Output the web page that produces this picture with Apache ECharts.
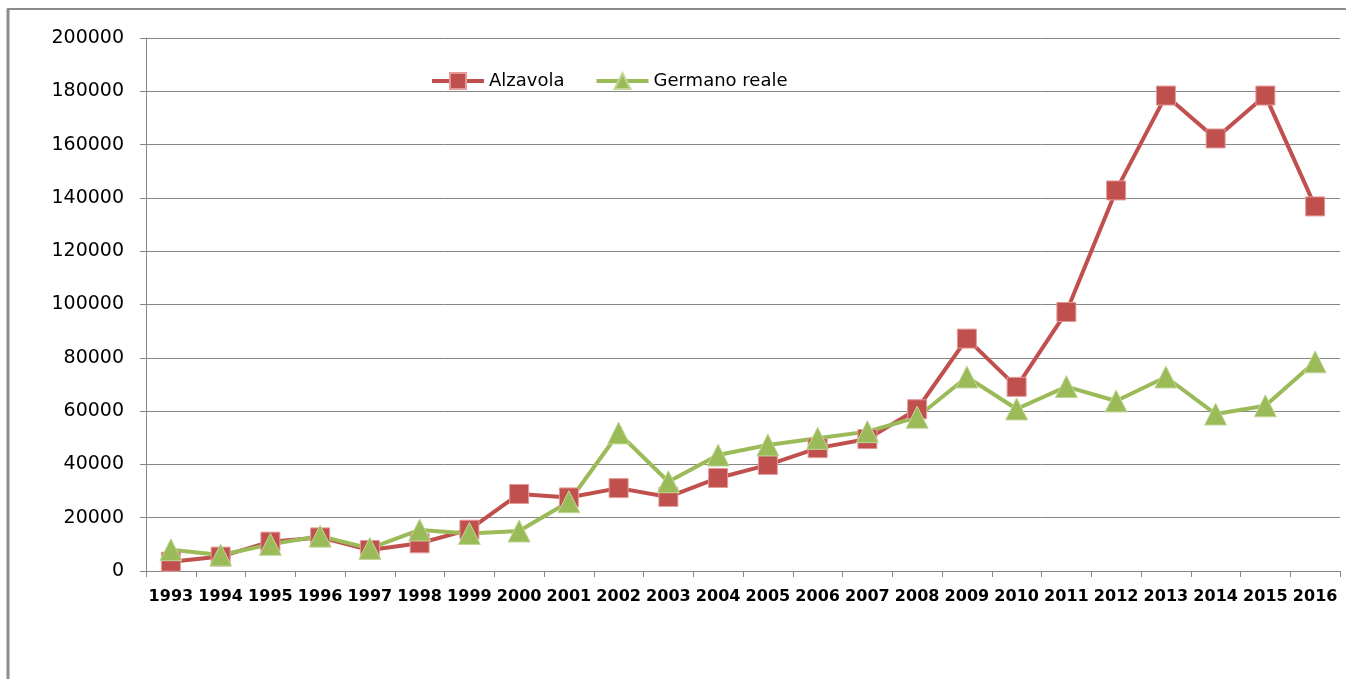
<!DOCTYPE html>
<html>
<head>
<meta charset="utf-8">
<script src="https://cdn.jsdelivr.net/npm/echarts@6/dist/echarts.min.js"></script>
<style>
  html, body { margin: 0; padding: 0; background: #fff; }
  #chart { width: 1348px; height: 679px; }
</style>
</head>
<body>
<div id="chart"></div>
<script>
// anni (categorie)
const years = ["1993", "1994", "1995", "1996", "1997", "1998", "1999", "2000", "2001", "2002", "2003", "2004",
  "2005", "2006", "2007", "2008", "2009", "2010", "2011", "2012", "2013", "2014", "2015", "2016"];

// valori
const alzavola = [3500, 5400, 11000, 12600, 7900, 10400, 15500, 28900, 27600, 31100, 27800, 34900,
  39800, 46100, 49500, 60700, 87200, 69100, 97200, 142800, 178400, 162300, 178400, 136800];
const germanoReale = [8000, 6000, 10000, 13100, 8500, 15400, 14100, 15000, 26000, 51800, 33500, 43500,
  47300, 49800, 52300, 57700, 72800, 60800, 69200, 63800, 72800, 58900, 62000, 78500];

const seriesNames = ["Alzavola", "Germano reale"];

const chart = echarts.init(document.getElementById("chart"));

const option = {
  animation: false,
  textStyle: { fontFamily: "DejaVu Sans" },
  grid: { left: 146, right: 8, top: 38, bottom: 108 },
  legend: {
    data: seriesNames,
    left: 430,
    top: 72,
    padding: 0,
    itemWidth: 52,
    itemHeight: 20,
    itemGap: 30,
    lineStyle: { width: 4 },
    textStyle: { fontSize: 18, color: "#000" }
  },
  // cornice grigia come nell'originale
  graphic: [
    { type: "line", shape: { x1: 8, y1: 9, x2: 8, y2: 679 }, style: { stroke: "#8c8c8c", lineWidth: 3 } },
    { type: "line", shape: { x1: 7, y1: 9, x2: 1346, y2: 9 }, style: { stroke: "#8c8c8c", lineWidth: 2 } }
  ],
  xAxis: {
    type: "category",
    data: years,
    boundaryGap: true,
    axisLine: { lineStyle: { color: "#868686", width: 1 } },
    axisTick: { show: true, length: 6, lineStyle: { color: "#868686" } },
    axisLabel: { color: "#000", fontSize: 16, fontWeight: "bold", margin: 18, interval: 0 }
  },
  yAxis: {
    type: "value",
    min: 0,
    max: 200000,
    interval: 20000,
    axisLine: { show: true, lineStyle: { color: "#868686", width: 1 } },
    axisTick: { show: true, length: 6, lineStyle: { color: "#868686" } },
    axisLabel: { color: "#000", fontSize: 19, margin: 22, formatter: (v) => String(v) },
    splitLine: { lineStyle: { color: "#868686", width: 1 } }
  },
  series: [
    {
      name: seriesNames[0],
      type: "line",
      data: alzavola,
      symbol: "rect",
      symbolSize: 19,
      lineStyle: { color: "#c0504d", width: 4 },
      itemStyle: { color: "#c0504d", borderColor: "#e39a98", borderWidth: 1 }
    },
    {
      name: seriesNames[1],
      type: "line",
      data: germanoReale,
      symbol: "triangle",
      symbolSize: 22,
      lineStyle: { color: "#9bbb59", width: 4 },
      itemStyle: { color: "#9bbb59", borderColor: "#c2d89a", borderWidth: 1 }
    }
  ]
};

chart.setOption(option);
</script>
</body>
</html>
